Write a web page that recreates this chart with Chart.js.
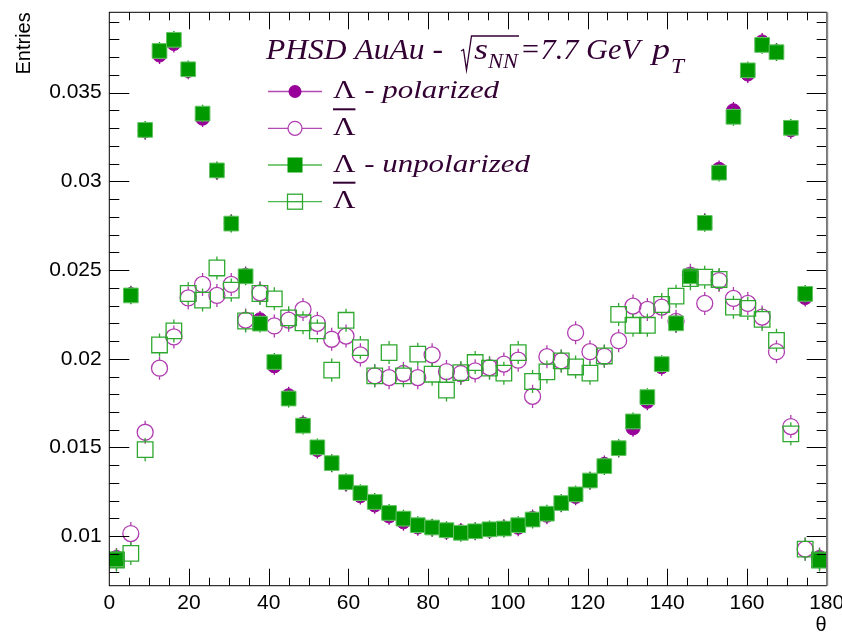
<!DOCTYPE html>
<html>
<head>
<meta charset="utf-8">
<script src="https://cdn.jsdelivr.net/npm/chart.js@4.4.1/dist/chart.umd.min.js"></script>
<style>
  html, body { margin: 0; padding: 0; background: #fff; }
  #wrap { width: 842px; height: 633px; }
</style>
</head>
<body>
<div id="wrap"><canvas id="grafico-theta"></canvas></div>
<script>
// Centros de los bins en theta (grados)
const theta = [1.8, 5.4, 9, 12.6, 16.2, 19.8, 23.4, 27, 30.6, 34.2,
  37.8, 41.4, 45, 48.6, 52.2, 55.8, 59.4, 63, 66.6, 70.2,
  73.8, 77.4, 81, 84.6, 88.2, 91.8, 95.4, 99, 102.6, 106.2,
  109.8, 113.4, 117, 120.6, 124.2, 127.8, 131.4, 135, 138.6, 142.2,
  145.8, 149.4, 153, 156.6, 160.2, 163.8, 167.4, 171, 174.6, 178.2];

// Lambda - polarized (circulos llenos)
const lambdaPol = [0.00880, 0.02362, 0.03285, 0.03712, 0.03777, 0.03625, 0.03356, 0.03058, 0.02765, 0.02470,
  0.02220, 0.01960, 0.01792, 0.01632, 0.01488, 0.01410, 0.01300, 0.01228, 0.01176, 0.01114,
  0.01081, 0.01052, 0.01047, 0.01028, 0.01025, 0.01027, 0.01034, 0.01046, 0.01050, 0.01100,
  0.01118, 0.01185, 0.01224, 0.01312, 0.01405, 0.01494, 0.01610, 0.01760, 0.01955, 0.02203,
  0.02470, 0.02770, 0.03068, 0.03398, 0.03605, 0.03786, 0.03730, 0.03290, 0.02345, 0.00880];

// Anti-lambda - polarized (circulos abiertos)
const antiLambdaPol = [0.00868, 0.01015, 0.01586, 0.01947, 0.02123, 0.02343, 0.02419, 0.02357, 0.02419, 0.02218,
  0.02372, 0.02185, 0.02218, 0.02278, 0.02200, 0.02110, 0.02128, 0.02022, 0.01904, 0.01894,
  0.01917, 0.01894, 0.02022, 0.01928, 0.01917, 0.01932, 0.01950, 0.01970, 0.01992, 0.01788,
  0.02012, 0.01988, 0.02147, 0.02040, 0.02014, 0.02102, 0.02297, 0.02278, 0.02291, 0.02211,
  0.02471, 0.02312, 0.02441, 0.02340, 0.02312, 0.02235, 0.02040, 0.01618, 0.00927, 0.00872];

// Lambda - unpolarized (cuadrados llenos)
const lambdaUnpol = [0.00869, 0.02357, 0.03290, 0.03735, 0.03798, 0.03632, 0.03382, 0.03062, 0.02762, 0.02465,
  0.02198, 0.01982, 0.01776, 0.01623, 0.01501, 0.01412, 0.01305, 0.01243, 0.01193, 0.01131,
  0.01099, 0.01062, 0.01049, 0.01034, 0.01019, 0.01028, 0.01039, 0.01043, 0.01062, 0.01094,
  0.01127, 0.01187, 0.01236, 0.01314, 0.01395, 0.01496, 0.01647, 0.01784, 0.01970, 0.02200,
  0.02465, 0.02766, 0.03049, 0.03364, 0.03626, 0.03769, 0.03728, 0.03302, 0.02366, 0.00865];

// Anti-lambda - unpolarized (cuadrados abiertos)
const antiLambdaUnpol = [0.00866, 0.00903, 0.01488, 0.02078, 0.02157, 0.02368, 0.02331, 0.02512, 0.02387, 0.02213,
  0.02368, 0.02338, 0.02231, 0.02203, 0.02157, 0.01936, 0.02217, 0.02063, 0.01904, 0.02035,
  0.01904, 0.02026, 0.01913, 0.01824, 0.01922, 0.01979, 0.01947, 0.01919, 0.02035, 0.01872,
  0.01926, 0.01988, 0.01954, 0.01919, 0.02016, 0.02250, 0.02189, 0.02189, 0.02306, 0.02353,
  0.02452, 0.02460, 0.02447, 0.02291, 0.02284, 0.02222, 0.02104, 0.01577, 0.00927, 0.00866];

// Errores (media anchura de la barra)
const errFilled = 0.0005;
const errOpen = 0.00065;

// Etiquetas de los ejes
const xTickValues = [0, 20, 40, 60, 80, 100, 120, 140, 160, 180];
const yTickValues = [0.01, 0.015, 0.02, 0.025, 0.03, 0.035];
const yTickLabels = ['0.01', '0.015', '0.02', '0.025', '0.03', '0.035'];

const textColor = '#330033';
const purple = '#990099';
const purpleOpen = '#b03cb0';
const green = '#009900';
const greenOpen = '#2ea82e';

function toPoints(values) {
    return theta.map((t, i) => ({ x: t, y: values[i] }));
}

// Texto ensanchado en horizontal (la fuente de ROOT sale mas ancha)
const stretch = 1.19;
function wideText(ctx, text, x, y, font, width) {
    ctx.font = font;
    const w = ctx.measureText(text).width;
    const sx = width ? width / w : stretch;
    ctx.save();
    ctx.translate(x, y);
    ctx.scale(sx, 1);
    ctx.fillText(text, 0, 0);
    ctx.restore();
    return w * sx;
}

// Barras de error verticales, sin pasar por dentro del marcador
const errorBarsPlugin = {
    id: 'errorBars',
    beforeDatasetDraw(chart, args) {
        const ds = chart.data.datasets[args.index];
        const ys = chart.scales.y;
        const ctx = chart.ctx;
        const area = chart.chartArea;
        ctx.save();
        ctx.beginPath();
        ctx.rect(area.left, area.top, area.right - area.left, area.bottom - area.top);
        ctx.clip();
        ctx.strokeStyle = ds.errColor;
        ctx.lineWidth = 1.3;
        args.meta.data.forEach((el, i) => {
            const v = ds.data[i].y;
            const top = ys.getPixelForValue(v + ds.err);
            const bottom = ys.getPixelForValue(v - ds.err);
            ctx.beginPath();
            ctx.moveTo(el.x, top);
            ctx.lineTo(el.x, el.y - ds.errGap);
            ctx.moveTo(el.x, el.y + ds.errGap);
            ctx.lineTo(el.x, bottom);
            ctx.stroke();
        });
        ctx.restore();
    }
};

// Marco y marcas de los ejes al estilo ROOT (hacia dentro)
const framePlugin = {
    id: 'rootFrame',
    afterDatasetsDraw(chart) {
        const ctx = chart.ctx;
        const { left, right, top, bottom } = chart.chartArea;
        const xs = chart.scales.x;
        const ys = chart.scales.y;
        ctx.save();
        ctx.strokeStyle = '#000';
        ctx.lineWidth = 1;
        ctx.strokeRect(left, top, right - left, bottom - top);
        ctx.beginPath();
        for (let t = 5; t < 180; t += 5) {
            const px = Math.round(xs.getPixelForValue(t)) + 0.5;
            const len = t % 20 === 0 ? 17 : 8;
            ctx.moveTo(px, bottom); ctx.lineTo(px, bottom - len);
            ctx.moveTo(px, top); ctx.lineTo(px, top + len);
        }
        for (let k = 8; k <= 39; k++) {
            const py = Math.round(ys.getPixelForValue(k / 1000)) + 0.5;
            const len = k % 5 === 0 ? 20 : 10;
            ctx.moveTo(left, py); ctx.lineTo(left + len, py);
            ctx.moveTo(right, py); ctx.lineTo(right - len, py);
        }
        ctx.stroke();
        ctx.strokeStyle = '#888';
        ctx.lineWidth = 2;
        ctx.beginPath();
        ctx.moveTo(right + 0.5, top); ctx.lineTo(right + 0.5, bottom);
        ctx.stroke();
        ctx.restore();
    }
};

// Titulo y leyenda dibujados a mano (texto con subindices y barra)
const legendPlugin = {
    id: 'rootLegend',
    afterDraw(chart) {
        const ctx = chart.ctx;
        ctx.save();
        ctx.fillStyle = textColor;
        ctx.strokeStyle = textColor;
        ctx.textBaseline = 'alphabetic';
        ctx.textAlign = 'left';

        // PHSD AuAu - sqrt(s_NN)=7.7 GeV p_T
        const base = 59;
        const big = 'italic 29px "Liberation Serif"';
        const small = 'italic 20px "Liberation Serif"';
        wideText(ctx, 'PHSD AuAu -', 266, base, big, 177);
        const r0 = 461;
        ctx.lineWidth = 1.3;
        ctx.beginPath();
        ctx.moveTo(r0, base - 8);
        ctx.lineTo(r0 + 2.5, base - 9.5);
        ctx.lineTo(r0 + 5.5, base + 11);
        ctx.lineTo(r0 + 10.5, base - 23);
        ctx.lineTo(519, base - 23);
        ctx.stroke();
        wideText(ctx, 's', 474, base, big, 14);
        wideText(ctx, 'NN', 488, base + 9, small, 30);
        wideText(ctx, '=7.7 GeV', 520, base, big, 120);
        wideText(ctx, 'p', 652, base, big, 18);
        wideText(ctx, 'T', 671, base + 14, small, 13);

        // Entradas de la leyenda
        const rows = [
            { y: 91.5, line: '#b24ab2', marker: 'circleFilled', bar: false, text: ' - polarized' },
            { y: 128.3, line: '#b24ab2', marker: 'circleOpen', bar: true, text: '' },
            { y: 165, line: '#4cb84c', marker: 'squareFilled', bar: false, text: ' - unpolarized' },
            { y: 201.7, line: '#4cb84c', marker: 'squareOpen', bar: true, text: '' }
        ];
        rows.forEach(row => {
            ctx.strokeStyle = row.line;
            ctx.lineWidth = 1.3;
            ctx.beginPath();
            ctx.moveTo(268, row.y);
            ctx.lineTo(322, row.y);
            ctx.stroke();
            const cx = 295;
            if (row.marker === 'circleFilled') {
                ctx.fillStyle = purple;
                ctx.beginPath(); ctx.arc(cx, row.y, 6.5, 0, Math.PI * 2); ctx.fill();
            } else if (row.marker === 'circleOpen') {
                ctx.fillStyle = '#fff';
                ctx.strokeStyle = purpleOpen;
                ctx.beginPath(); ctx.arc(cx, row.y, 7, 0, Math.PI * 2); ctx.fill(); ctx.stroke();
            } else if (row.marker === 'squareFilled') {
                ctx.fillStyle = green;
                ctx.fillRect(cx - 7.5, row.y - 7.5, 15, 15);
            } else {
                ctx.fillStyle = '#fff';
                ctx.strokeStyle = greenOpen;
                ctx.fillRect(cx - 7.5, row.y - 7.5, 15, 15);
                ctx.strokeRect(cx - 7.5, row.y - 7.5, 15, 15);
                ctx.beginPath();
                ctx.moveTo(cx - 7.5, row.y); ctx.lineTo(cx + 7.5, row.y);
                ctx.stroke();
            }
            const tb = row.y + 6.5;
            ctx.fillStyle = textColor;
            ctx.strokeStyle = textColor;
            const lw = wideText(ctx, '\u039B', 333, tb, '26px "Liberation Serif"');
            if (row.bar) {
                ctx.lineWidth = 2;
                ctx.beginPath();
                ctx.moveTo(333, tb - 25.5);
                ctx.lineTo(333 + lw, tb - 25.5);
                ctx.stroke();
            }
            if (row.text) {
                wideText(ctx, row.text, 333 + lw + 1, tb, 'italic 26px "Liberation Serif"');
            }
        });
        ctx.restore();
    }
};

const datasets = [
    {
        label: '\u039B - polarized',
        data: toPoints(lambdaPol),
        pointStyle: 'circle',
        pointRadius: 7,
        backgroundColor: purple,
        borderColor: purple,
        borderWidth: 1,
        err: errFilled, errGap: 7, errColor: purple,
        order: 4
    },
    {
        label: 'anti-\u039B polarized',
        data: toPoints(antiLambdaPol),
        pointStyle: 'circle',
        pointRadius: 8,
        backgroundColor: 'rgba(0,0,0,0)',
        borderColor: purpleOpen,
        borderWidth: 1.3,
        err: errOpen, errGap: 8, errColor: purpleOpen,
        order: 3
    },
    {
        label: '\u039B - unpolarized',
        data: toPoints(lambdaUnpol),
        pointStyle: 'rect',
        pointRadius: 10.4,
        backgroundColor: green,
        borderColor: '#62c462',
        borderWidth: 1,
        err: errFilled, errGap: 7.5, errColor: green,
        order: 2
    },
    {
        label: 'anti-\u039B unpolarized',
        data: toPoints(antiLambdaUnpol),
        pointStyle: 'rect',
        pointRadius: 11,
        backgroundColor: 'rgba(0,0,0,0)',
        borderColor: greenOpen,
        borderWidth: 1.3,
        err: errOpen, errGap: 7.8, errColor: greenOpen,
        order: 1
    }
];

new Chart(document.getElementById('grafico-theta'), {
    type: 'scatter',
    data: { datasets: datasets },
    options: {
        responsive: true,
        maintainAspectRatio: false,
        animation: false,
        events: [],
        layout: { padding: { left: 0, right: 15.3, top: 10, bottom: 0 } },
        plugins: {
            legend: { display: false },
            tooltip: { enabled: false }
        },
        scales: {
            x: {
                type: 'linear',
                min: 0,
                max: 180,
                grid: { display: false, drawTicks: false },
                border: { display: false },
                afterBuildTicks: scale => { scale.ticks = xTickValues.map(v => ({ value: v })); },
                afterFit: scale => {
                    scale.height = 633 - 585.7;
                    scale.paddingLeft = 0;
                    scale.paddingRight = 0;
                },
                ticks: {
                    autoSkip: false,
                    maxRotation: 0,
                    padding: 5,
                    color: '#000',
                    font: { family: '"Liberation Sans", Arial, sans-serif', size: 21 },
                    callback: value => String(value)
                },
                title: {
                    display: true,
                    text: '\u03B8',
                    align: 'end',
                    color: '#000',
                    padding: { top: 0, bottom: -2 },
                    font: { family: '"Liberation Sans", Arial, sans-serif', size: 20, lineHeight: 1 }
                }
            },
            y: {
                min: 0.00721,
                max: 0.03953,
                grid: { display: false, drawTicks: false },
                border: { display: false },
                afterBuildTicks: scale => { scale.ticks = yTickValues.map(v => ({ value: v })); },
                afterFit: scale => {
                    scale.width = 109.3;
                    scale.paddingTop = 0;
                    scale.paddingBottom = 0;
                },
                ticks: {
                    padding: 7.6,
                    color: '#000',
                    font: { family: '"Liberation Sans", Arial, sans-serif', size: 21 },
                    callback: (value, index) => yTickLabels[index]
                },
                title: {
                    display: true,
                    text: 'Entries',
                    align: 'end',
                    color: '#000',
                    padding: { top: 12, bottom: 0 },
                    font: { family: '"Liberation Sans", Arial, sans-serif', size: 20 }
                }
            }
        }
    },
    plugins: [errorBarsPlugin, framePlugin, legendPlugin]
});
</script>
</body>
</html>
